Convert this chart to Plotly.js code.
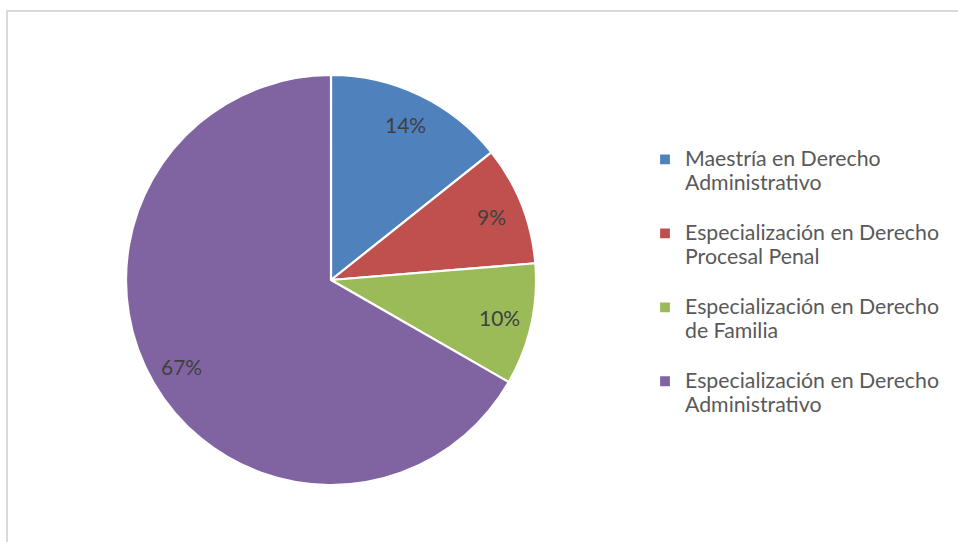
<!DOCTYPE html>
<html>
<head>
<meta charset="utf-8">
<script src="https://cdn.plot.ly/plotly-3.0.1.min.js"></script>
<style>
  html, body { margin: 0; padding: 0; background: #ffffff; }
  #wrap { position: relative; width: 958px; height: 542px; overflow: hidden; }
  #chart { position: absolute; left: 0; top: 0; width: 958px; height: 542px; }
  #frame { position: absolute; left: 6px; top: 10px; width: 1000px; height: 600px;
           border-top: 2px solid #d9d9d9; border-left: 2px solid #d9d9d9; pointer-events: none; }
</style>
</head>
<body>
<div id="wrap">
  <div id="chart"></div>
  <div id="frame"></div>
</div>
<script>
// ---- data ----
var categories = [
  "Maestría en Derecho<br>Administrativo",
  "Especialización en Derecho<br>Procesal Penal",
  "Especialización en Derecho<br>de Familia",
  "Especialización en Derecho<br>Administrativo"
];
var values = [14.3, 9.4, 9.6, 66.7];
var colors = ["#4F81BD", "#C0504D", "#9BBB59", "#8064A2"];

// ---- layout constants ----
var W = 958, H = 542;
var cx = 331, cy = 280, R = 205;
var FONT = "Lato, 'Open Sans', sans-serif";

var dom = {
  x: [(cx - R) / W, (cx + R) / W],
  y: [(H - cy - R) / H, (H - cy + R) / H]
};

// legend labels with a trailing blank line for item spacing
var legendLabels = categories.map(function (c) {
  return '<span style="font-size:21.3px">' + c + '</span><br> ';
});

var trace = {
  type: 'pie',
  values: values,
  labels: legendLabels,
  marker: { colors: colors, line: { color: '#ffffff', width: 2.2 } },
  sort: false,
  direction: 'clockwise',
  rotation: 0,
  textinfo: 'none',
  hoverinfo: 'label+percent',
  domain: dom
};

// percentage labels positioned from the data along each slice bisector
var total = values.reduce(function (a, b) { return a + b; }, 0);
var annotations = [];
var cum = 0;
for (var i = 0; i < values.length; i++) {
  var frac = values[i] / total;
  var mid = (cum + frac / 2) * 2 * Math.PI;
  cum += frac;
  var rr = 0.84 * R;
  var px = cx + rr * Math.sin(mid);
  var py = cy - rr * Math.cos(mid);
  annotations.push({
    xref: 'paper', yref: 'paper',
    x: px / W, y: (H - py) / H,
    xanchor: 'center', yanchor: 'middle',
    text: Math.round(frac * 100) + '%',
    showarrow: false,
    font: { family: FONT, size: 21, color: '#404040' }
  });
}

var layout = {
  width: W, height: H,
  margin: { l: 0, r: 0, t: 0, b: 0 },
  paper_bgcolor: '#ffffff',
  showlegend: true,
  legend: {
    x: 645 / W, y: 1 - 141 / H,
    xanchor: 'left', yanchor: 'top',
    font: { family: FONT, size: 18.2, color: '#595959' },
    valign: 'top',
    itemwidth: 30,
    bgcolor: 'rgba(0,0,0,0)'
  },
  annotations: annotations
};

Plotly.newPlot('chart', [trace], layout, { displayModeBar: false, staticPlot: true });
</script>
</body>
</html>
